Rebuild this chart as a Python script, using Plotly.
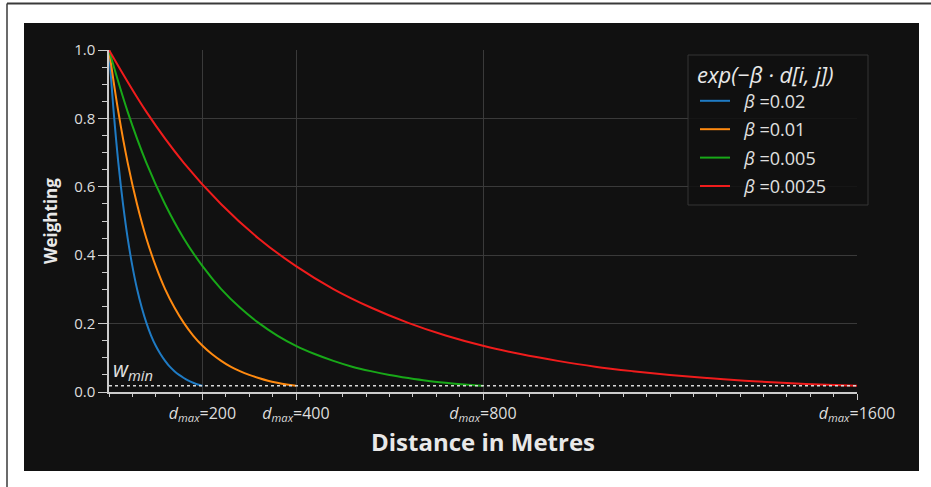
import plotly.graph_objects as go

# ---- data ----
labels = ["\u00a0\u00a0<i>β</i> =0.02", "\u00a0\u00a0<i>β</i> =0.01", "\u00a0\u00a0<i>β</i> =0.005", "\u00a0\u00a0<i>β</i> =0.0025"]
d_blue = [0, 10, 20, 30, 40, 50, 60, 70, 80, 90, 100, 110, 120, 130, 140, 150, 160, 170, 180, 190, 200]
d_orange = [0, 20, 40, 60, 80, 100, 120, 140, 160, 180, 200, 220, 240, 260, 280, 300, 320, 340, 360, 380, 400]
d_green = [0, 40, 80, 120, 160, 200, 240, 280, 320, 360, 400, 440, 480, 520, 560, 600, 640, 680, 720, 760, 800]
d_red = [0, 80, 160, 240, 320, 400, 480, 560, 640, 720, 800, 880, 960, 1040, 1120, 1200, 1280, 1360, 1440, 1520, 1600]
w_blue = [1.000, 0.819, 0.670, 0.549, 0.449, 0.368, 0.301, 0.247, 0.202, 0.165, 0.135,
          0.111, 0.091, 0.074, 0.061, 0.050, 0.041, 0.033, 0.027, 0.022, 0.018]
w_orange = [1.000, 0.819, 0.670, 0.549, 0.449, 0.368, 0.301, 0.247, 0.202, 0.165, 0.135,
            0.111, 0.091, 0.074, 0.061, 0.050, 0.041, 0.033, 0.027, 0.022, 0.018]
w_green = [1.000, 0.819, 0.670, 0.549, 0.449, 0.368, 0.301, 0.247, 0.202, 0.165, 0.135,
           0.111, 0.091, 0.074, 0.061, 0.050, 0.041, 0.033, 0.027, 0.022, 0.018]
w_red = [1.000, 0.819, 0.670, 0.549, 0.449, 0.368, 0.301, 0.247, 0.202, 0.165, 0.135,
         0.111, 0.091, 0.074, 0.061, 0.050, 0.041, 0.033, 0.027, 0.022, 0.018]
w_min = 0.018
w_min_d = [0, 1600]
x_tickvals = [200, 400, 800, 1600]
x_ticktext = ["<i>d</i><sub><i>max</i></sub>=200", "<i>d</i><sub><i>max</i></sub>=400",
              "<i>d</i><sub><i>max</i></sub>=800", "<i>d</i><sub><i>max</i></sub>=1600"]
y_tickvals = [0.0, 0.2, 0.4, 0.6, 0.8, 1.0]

colors = ["#1f7bc4", "#ff8a10", "#18a818", "#f01c1c"]
series = [(d_blue, w_blue), (d_orange, w_orange), (d_green, w_green), (d_red, w_red)]

W, H = 931, 487
L, R, T, B = 109, 74, 50, 95

fig = go.Figure()
for i, ((dx, wy), lab) in enumerate(zip(series, labels)):
    fig.add_trace(go.Scatter(x=dx, y=wy, mode="lines", name=lab,
                             line=dict(color=colors[i], width=2, shape="spline"),
                             legendgroup=f"g{i}"))
fig.add_trace(go.Scatter(x=w_min_d, y=[w_min, w_min], mode="lines", showlegend=False,
                         line=dict(color="#d8d8d8", width=1.5, dash="dot")))

pw = W - L - R
ph = H - T - B
def px(x):
    return (x - L) / pw
def py(y):
    return (H - B - y) / ph

shapes = [
    dict(type="rect", xref="paper", yref="paper", x0=px(24), x1=px(919), y0=py(471), y1=py(23),
         fillcolor="#111111", line=dict(width=0), layer="below"),
    dict(type="line", xref="paper", yref="paper", x0=px(7), x1=px(931), y0=py(3.5), y1=py(3.5),
         line=dict(color="#3a3a3a", width=2), layer="above"),
    dict(type="line", xref="paper", yref="paper", x0=px(7), x1=px(7), y0=py(3.5), y1=py(487),
         line=dict(color="#3a3a3a", width=1.5), layer="above"),
    # legend frame
    dict(type="rect", xref="paper", yref="paper", x0=px(688), x1=px(868), y0=py(205), y1=py(55),
         fillcolor="rgba(17,17,17,0.85)", line=dict(color="#353535", width=1), layer="above"),
]

fig.update_layout(
    width=W, height=H,
    margin=dict(l=L, r=R, t=T, b=B),
    paper_bgcolor="white", plot_bgcolor="#111111",
    font=dict(family="Open Sans", color="#dddddd", size=13),
    shapes=shapes,
    showlegend=True,
    legend=dict(
        title=dict(text="<i>exp(−β · d[i, j])</i>", font=dict(size=22, color="#e8e8e8")),
        font=dict(size=18, color="#e0e0e0"),
        x=px(695), xanchor="left", y=py(54), yanchor="top",
        bgcolor="rgba(0,0,0,0)", borderwidth=0,
        tracegroupgap=2, traceorder="grouped",
    ),
    annotations=[
        dict(x=0, y=w_min, xref="x", yref="y", text="<i>w</i><sub><i>min</i></sub>",
             showarrow=False, xanchor="left", yanchor="bottom", xshift=2, yshift=-1,
             font=dict(size=21, color="#e0e0e0")),
    ],
)

fig.update_xaxes(
    range=[0, 1600], tickmode="array", tickvals=x_tickvals, ticktext=x_ticktext,
    showgrid=True, gridcolor="#3a3a3a", gridwidth=1, zeroline=False,
    showline=True, linecolor="#cccccc", linewidth=1.5,
    ticks="outside", ticklen=6, tickcolor="#cccccc", tickwidth=1.2,
    tickfont=dict(size=16, color="#dddddd"),
    minor=dict(tickmode="linear", tick0=0, dtick=50, ticks="outside", ticklen=3,
               tickcolor="#cccccc", showgrid=False),
    title=dict(text="<b>Distance in Metres</b>", font=dict(size=24, color="#e8e8e8"), standoff=6),
)
fig.update_yaxes(
    range=[0, 1.0], tickmode="array", tickvals=y_tickvals, tickformat=".1f",
    showgrid=True, gridcolor="#3a3a3a", gridwidth=1, zeroline=False,
    showline=True, linecolor="#cccccc", linewidth=1.5,
    ticks="outside", ticklen=9, tickcolor="#cccccc", tickwidth=1.2,
    tickfont=dict(size=15, color="#dddddd"),
    minor=dict(tickmode="linear", tick0=0, dtick=0.05, ticks="outside", ticklen=5,
               tickcolor="#cccccc", showgrid=False),
    title=dict(text="<b>Weighting</b>", font=dict(size=17, color="#e8e8e8"), standoff=12),
)

fig.write_html("out.html", config={"displayModeBar": False},
               post_script="document.body.style.margin='0';")
